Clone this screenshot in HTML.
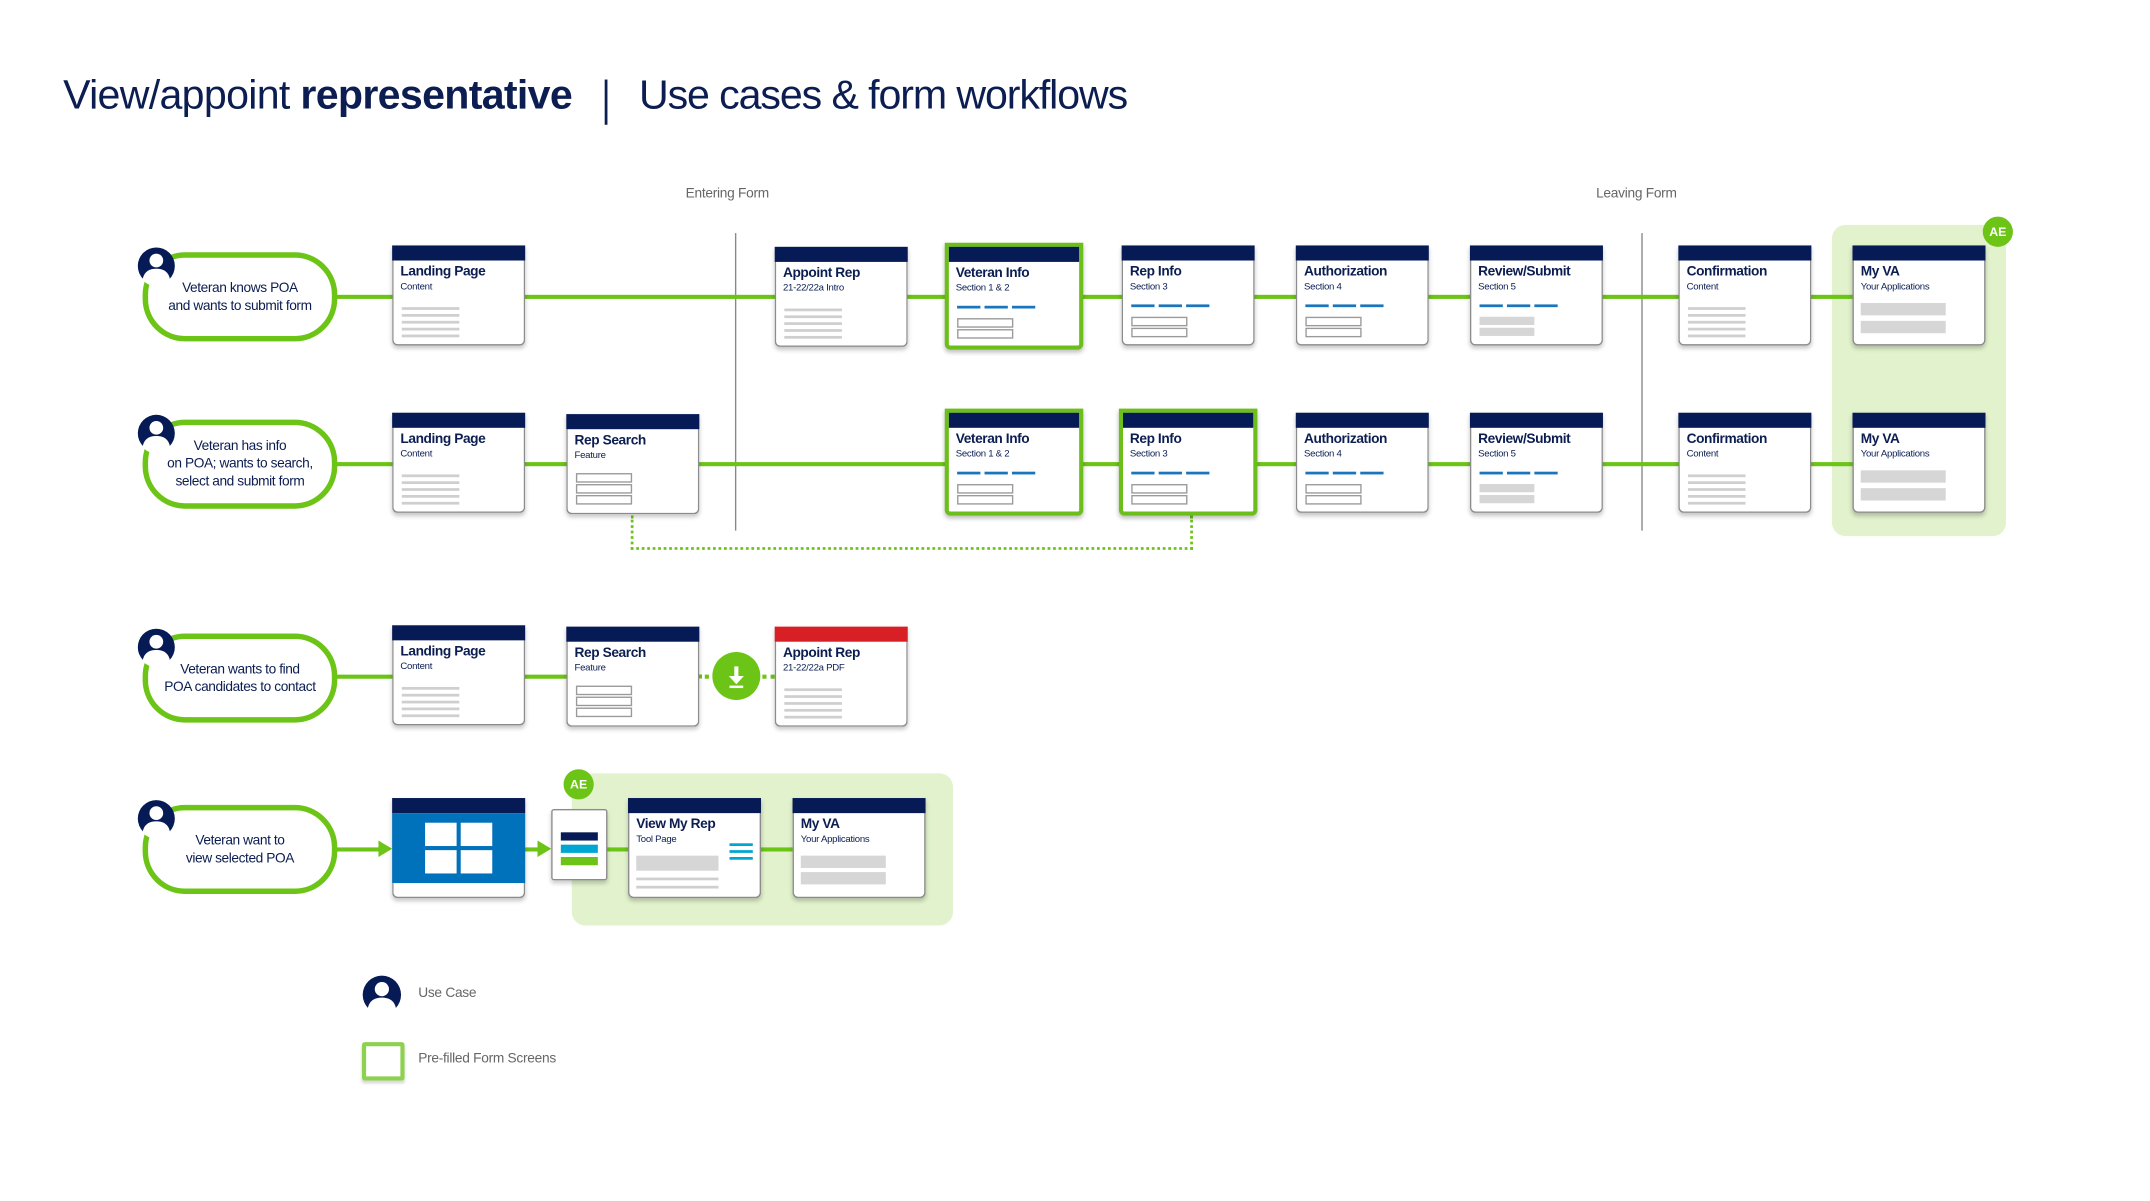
<!DOCTYPE html>
<html><head><meta charset="utf-8"><style>
html,body{margin:0;padding:0;background:#fff;width:2150px;height:1200px;overflow:hidden}
#w{position:absolute;left:0;top:0;width:1568px;height:876px;transform:scale(1.3712);transform-origin:0 0;font-family:"Liberation Sans",sans-serif;color:#0b1d51}
.a{position:absolute}
.c{position:absolute;width:95px;height:72px;background:#fff;border:1px solid #8c8c8c;border-top:none;border-radius:0 0 4px 4px;box-shadow:0 2px 3px rgba(0,0,0,.22)}
.c .h{position:absolute;left:-1px;top:0;width:97px;height:11px;background:#061a55}
.c .t{position:absolute;left:5px;top:14px;font-size:10px;font-weight:bold;letter-spacing:-0.3px;white-space:nowrap}
.c .s{position:absolute;left:5px;top:27px;font-size:7px;letter-spacing:-0.2px;white-space:nowrap}
.g{border:3px solid #6cbf1a;box-shadow:0 2px 3px rgba(0,0,0,.25)}
.g .h{left:0;width:95px}
.ln{position:absolute;left:6px;width:42px;height:1.5px;background:#cfcfcf}
.ds{position:absolute;top:43px;height:2px;width:17px;background:#1b75bc}
.bx{position:absolute;left:6px;width:39px;height:5px;border:1px solid #9a9a9a}
.gb{position:absolute;left:6px;width:40px;height:6px;background:#d6d6d6}
.mb{position:absolute;left:5px;width:62px;height:9px;background:#d6d6d6}
.gl{position:absolute;height:3px;background:#6cc417}
.pill{position:absolute;width:134px;height:57px;border:4px solid #6cc417;border-radius:31px;background:#fff;font-size:10px;line-height:13px;text-align:center;display:flex;align-items:center;justify-content:center;letter-spacing:-0.3px}
.av{position:absolute;width:28px;height:28px}
.vl{position:absolute;width:1px;background:#888}
.lab{position:absolute;font-size:10px;color:#666;letter-spacing:-0.2px}
.ae{position:absolute;width:22px;height:22px;border-radius:50%;background:#6cc417;color:#fff;font-size:9px;font-weight:bold;text-align:center;line-height:22px}
</style></head><body><div id="w">

<div class="a" style="left:46px;top:53px;font-size:30px;letter-spacing:-0.5px;white-space:nowrap;color:#0b1d51">View/appoint <b>representative</b></div>
<div class="a" style="left:441px;top:58px;width:1.5px;height:33px;background:#0b1d51"></div>
<div class="a" style="left:466px;top:53px;font-size:30px;letter-spacing:-0.8px;white-space:nowrap;color:#0b1d51">Use cases &amp; form workflows</div>

<div class="lab" style="left:500px;top:136px">Entering Form</div>
<div class="lab" style="left:1164px;top:136px">Leaving Form</div>
<div class="vl" style="left:536px;top:170px;height:217px"></div>
<div class="vl" style="left:1197px;top:170px;height:217px"></div>

<div class="a" style="left:1336px;top:164px;width:127px;height:227px;background:#e1f2cc;border-radius:10px"></div>
<div class="ae" style="left:1446px;top:158px">AE</div>
<div class="a" style="left:417px;top:564px;width:278px;height:111px;background:#e1f2cc;border-radius:10px"></div>
<div class="ae" style="left:411px;top:561px">AE</div>

<div class="gl" style="left:240px;top:215px;width:1112px"></div>
<div class="gl" style="left:240px;top:337px;width:1112px"></div>
<div class="gl" style="left:240px;top:492px;width:174px"></div>
<div class="a" style="left:509px;top:492px;width:56px;border-top:3px dotted #6cc417"></div>
<div class="gl" style="left:240px;top:618px;width:40px"></div>
<div class="a" style="left:276px;top:613px;border-left:10px solid #6cc417;border-top:6.5px solid transparent;border-bottom:6.5px solid transparent"></div>
<div class="gl" style="left:382px;top:618px;width:14px"></div>
<div class="a" style="left:392px;top:613px;border-left:10px solid #6cc417;border-top:6.5px solid transparent;border-bottom:6.5px solid transparent"></div>
<div class="gl" style="left:442px;top:618px;width:136px"></div>
<div class="a" style="left:460px;top:376px;width:406px;height:23px;border:2px dotted #6cc417;border-top:none"></div>

<div class="pill" style="left:104px;top:184px">Veteran knows POA<br>and wants to submit form</div>
<div class="pill" style="left:104px;top:306px">Veteran has info<br>on POA; wants to search,<br>select and submit form</div>
<div class="pill" style="left:104px;top:462px">Veteran wants to find<br>POA candidates to contact</div>
<div class="pill" style="left:104px;top:587px">Veteran want to<br>view selected POA</div>

<svg class="av" style="left:100px;top:180px" viewBox="0 0 28 28"><circle cx="14" cy="14" r="13.5" fill="#061a55"/><circle cx="14" cy="10" r="5" fill="#fff"/><path d="M4 24c1-6 5-8 10-8s9 2 10 8a13 13 0 0 1-20 0z" fill="#fff"/></svg>
<svg class="av" style="left:100px;top:302px" viewBox="0 0 28 28"><circle cx="14" cy="14" r="13.5" fill="#061a55"/><circle cx="14" cy="10" r="5" fill="#fff"/><path d="M4 24c1-6 5-8 10-8s9 2 10 8a13 13 0 0 1-20 0z" fill="#fff"/></svg>
<svg class="av" style="left:100px;top:458px" viewBox="0 0 28 28"><circle cx="14" cy="14" r="13.5" fill="#061a55"/><circle cx="14" cy="10" r="5" fill="#fff"/><path d="M4 24c1-6 5-8 10-8s9 2 10 8a13 13 0 0 1-20 0z" fill="#fff"/></svg>
<svg class="av" style="left:100px;top:583px" viewBox="0 0 28 28"><circle cx="14" cy="14" r="13.5" fill="#061a55"/><circle cx="14" cy="10" r="5" fill="#fff"/><path d="M4 24c1-6 5-8 10-8s9 2 10 8a13 13 0 0 1-20 0z" fill="#fff"/></svg>

<div class="c" style="left:286px;top:179px"><div class="h"></div><div class="t">Landing Page</div><div class="s">Content</div><div class="ln" style="top:45px"></div><div class="ln" style="top:50px"></div><div class="ln" style="top:55px"></div><div class="ln" style="top:60px"></div><div class="ln" style="top:65px"></div></div>
<div class="c" style="left:565px;top:180px"><div class="h"></div><div class="t">Appoint Rep</div><div class="s">21-22/22a Intro</div><div class="ln" style="top:45px"></div><div class="ln" style="top:50px"></div><div class="ln" style="top:55px"></div><div class="ln" style="top:60px"></div><div class="ln" style="top:65px"></div></div>
<div class="c g" style="left:689px;top:177px"><div class="h"></div><div class="t">Veteran Info</div><div class="s">Section 1 &amp; 2</div><div class="ds" style="left:6px"></div><div class="ds" style="left:26px"></div><div class="ds" style="left:46px"></div><div class="bx" style="top:52px"></div><div class="bx" style="top:60px"></div></div>
<div class="c" style="left:818px;top:179px"><div class="h"></div><div class="t">Rep Info</div><div class="s">Section 3</div><div class="ds" style="left:6px"></div><div class="ds" style="left:26px"></div><div class="ds" style="left:46px"></div><div class="bx" style="top:52px"></div><div class="bx" style="top:60px"></div></div>
<div class="c" style="left:945px;top:179px"><div class="h"></div><div class="t">Authorization</div><div class="s">Section 4</div><div class="ds" style="left:6px"></div><div class="ds" style="left:26px"></div><div class="ds" style="left:46px"></div><div class="bx" style="top:52px"></div><div class="bx" style="top:60px"></div></div>
<div class="c" style="left:1072px;top:179px"><div class="h"></div><div class="t">Review/Submit</div><div class="s">Section 5</div><div class="ds" style="left:6px"></div><div class="ds" style="left:26px"></div><div class="ds" style="left:46px"></div><div class="gb" style="top:52px"></div><div class="gb" style="top:60px"></div></div>
<div class="c" style="left:1224px;top:179px"><div class="h"></div><div class="t">Confirmation</div><div class="s">Content</div><div class="ln" style="top:45px"></div><div class="ln" style="top:50px"></div><div class="ln" style="top:55px"></div><div class="ln" style="top:60px"></div><div class="ln" style="top:65px"></div></div>
<div class="c" style="left:1351px;top:179px"><div class="h"></div><div class="t">My VA</div><div class="s">Your Applications</div><div class="mb" style="top:42px"></div><div class="mb" style="top:55px"></div></div>

<div class="c" style="left:286px;top:301px"><div class="h"></div><div class="t">Landing Page</div><div class="s">Content</div><div class="ln" style="top:45px"></div><div class="ln" style="top:50px"></div><div class="ln" style="top:55px"></div><div class="ln" style="top:60px"></div><div class="ln" style="top:65px"></div></div>
<div class="c" style="left:413px;top:302px"><div class="h"></div><div class="t">Rep Search</div><div class="s">Feature</div><div class="bx" style="top:43px"></div><div class="bx" style="top:51px"></div><div class="bx" style="top:59px"></div></div>
<div class="c g" style="left:689px;top:298px"><div class="h"></div><div class="t">Veteran Info</div><div class="s">Section 1 &amp; 2</div><div class="ds" style="left:6px"></div><div class="ds" style="left:26px"></div><div class="ds" style="left:46px"></div><div class="bx" style="top:52px"></div><div class="bx" style="top:60px"></div></div>
<div class="c g" style="left:816px;top:298px"><div class="h"></div><div class="t">Rep Info</div><div class="s">Section 3</div><div class="ds" style="left:6px"></div><div class="ds" style="left:26px"></div><div class="ds" style="left:46px"></div><div class="bx" style="top:52px"></div><div class="bx" style="top:60px"></div></div>
<div class="c" style="left:945px;top:301px"><div class="h"></div><div class="t">Authorization</div><div class="s">Section 4</div><div class="ds" style="left:6px"></div><div class="ds" style="left:26px"></div><div class="ds" style="left:46px"></div><div class="bx" style="top:52px"></div><div class="bx" style="top:60px"></div></div>
<div class="c" style="left:1072px;top:301px"><div class="h"></div><div class="t">Review/Submit</div><div class="s">Section 5</div><div class="ds" style="left:6px"></div><div class="ds" style="left:26px"></div><div class="ds" style="left:46px"></div><div class="gb" style="top:52px"></div><div class="gb" style="top:60px"></div></div>
<div class="c" style="left:1224px;top:301px"><div class="h"></div><div class="t">Confirmation</div><div class="s">Content</div><div class="ln" style="top:45px"></div><div class="ln" style="top:50px"></div><div class="ln" style="top:55px"></div><div class="ln" style="top:60px"></div><div class="ln" style="top:65px"></div></div>
<div class="c" style="left:1351px;top:301px"><div class="h"></div><div class="t">My VA</div><div class="s">Your Applications</div><div class="mb" style="top:42px"></div><div class="mb" style="top:55px"></div></div>

<div class="c" style="left:286px;top:456px"><div class="h"></div><div class="t">Landing Page</div><div class="s">Content</div><div class="ln" style="top:45px"></div><div class="ln" style="top:50px"></div><div class="ln" style="top:55px"></div><div class="ln" style="top:60px"></div><div class="ln" style="top:65px"></div></div>
<div class="c" style="left:413px;top:457px"><div class="h"></div><div class="t">Rep Search</div><div class="s">Feature</div><div class="bx" style="top:43px"></div><div class="bx" style="top:51px"></div><div class="bx" style="top:59px"></div></div>
<div class="c" style="left:565px;top:457px"><div class="h" style="background:#d91f26"></div><div class="t">Appoint Rep</div><div class="s">21-22/22a PDF</div><div class="ln" style="top:45px"></div><div class="ln" style="top:50px"></div><div class="ln" style="top:55px"></div><div class="ln" style="top:60px"></div><div class="ln" style="top:65px"></div></div>
<svg class="a" style="left:519px;top:475px" width="36" height="36" viewBox="0 0 36 36"><circle cx="18" cy="18" r="17.5" fill="#6cc417"/><rect x="16.5" y="11" width="3" height="8" fill="#fff"/><path d="M12.5 18h11L18 24z" fill="#fff"/><rect x="13" y="25" width="10" height="1.8" fill="#fff"/></svg>

<div class="c" style="left:286px;top:582px"><div class="h"></div><div class="a" style="left:-1px;top:11px;width:97px;height:51px;background:#0071bb"></div>
<div class="a" style="left:23px;top:18px;width:23px;height:17px;background:#fff"></div><div class="a" style="left:49px;top:18px;width:23px;height:17px;background:#fff"></div><div class="a" style="left:23px;top:38px;width:23px;height:17px;background:#fff"></div><div class="a" style="left:49px;top:38px;width:23px;height:17px;background:#fff"></div></div>
<div class="a" style="left:402px;top:590px;width:39px;height:50px;background:#fff;border:1px solid #8c8c8c;border-radius:2px;box-shadow:0 2px 3px rgba(0,0,0,.2)"><div class="a" style="left:6px;top:16px;width:27px;height:6px;background:#061a55"></div><div class="a" style="left:6px;top:25px;width:27px;height:6px;background:#00a6d2"></div><div class="a" style="left:6px;top:34px;width:27px;height:6px;background:#6cc417"></div></div>
<div class="c" style="left:458px;top:582px"><div class="h"></div><div class="t">View My Rep</div><div class="s">Tool Page</div><div class="a" style="left:5px;top:42px;width:60px;height:11px;background:#d6d6d6"></div><div class="ln" style="left:5px;width:60px;top:58px"></div><div class="ln" style="left:5px;width:60px;top:64px"></div>
<div class="a" style="left:73px;top:33px;width:17px;height:2px;background:#00a6d2"></div><div class="a" style="left:73px;top:38px;width:17px;height:2px;background:#00a6d2"></div><div class="a" style="left:73px;top:43px;width:17px;height:2px;background:#00a6d2"></div></div>
<div class="c" style="left:578px;top:582px"><div class="h"></div><div class="t">My VA</div><div class="s">Your Applications</div><div class="mb" style="top:42px"></div><div class="mb" style="top:54px"></div></div>

<svg class="a" style="left:264px;top:711px" width="29" height="29" viewBox="0 0 28 28"><circle cx="14" cy="14" r="13.5" fill="#061a55"/><circle cx="14" cy="10" r="5" fill="#fff"/><path d="M4 24c1-6 5-8 10-8s9 2 10 8a13 13 0 0 1-20 0z" fill="#fff"/></svg>
<div class="lab" style="left:305px;top:719px">Use Case</div>
<div class="a" style="left:264px;top:760px;width:25px;height:22px;border:3px solid #8dd14e;border-radius:2px;box-shadow:0 2px 2px rgba(0,0,0,.15)"></div>
<div class="lab" style="left:305px;top:767px">Pre-filled Form Screens</div>

</div></body></html>
